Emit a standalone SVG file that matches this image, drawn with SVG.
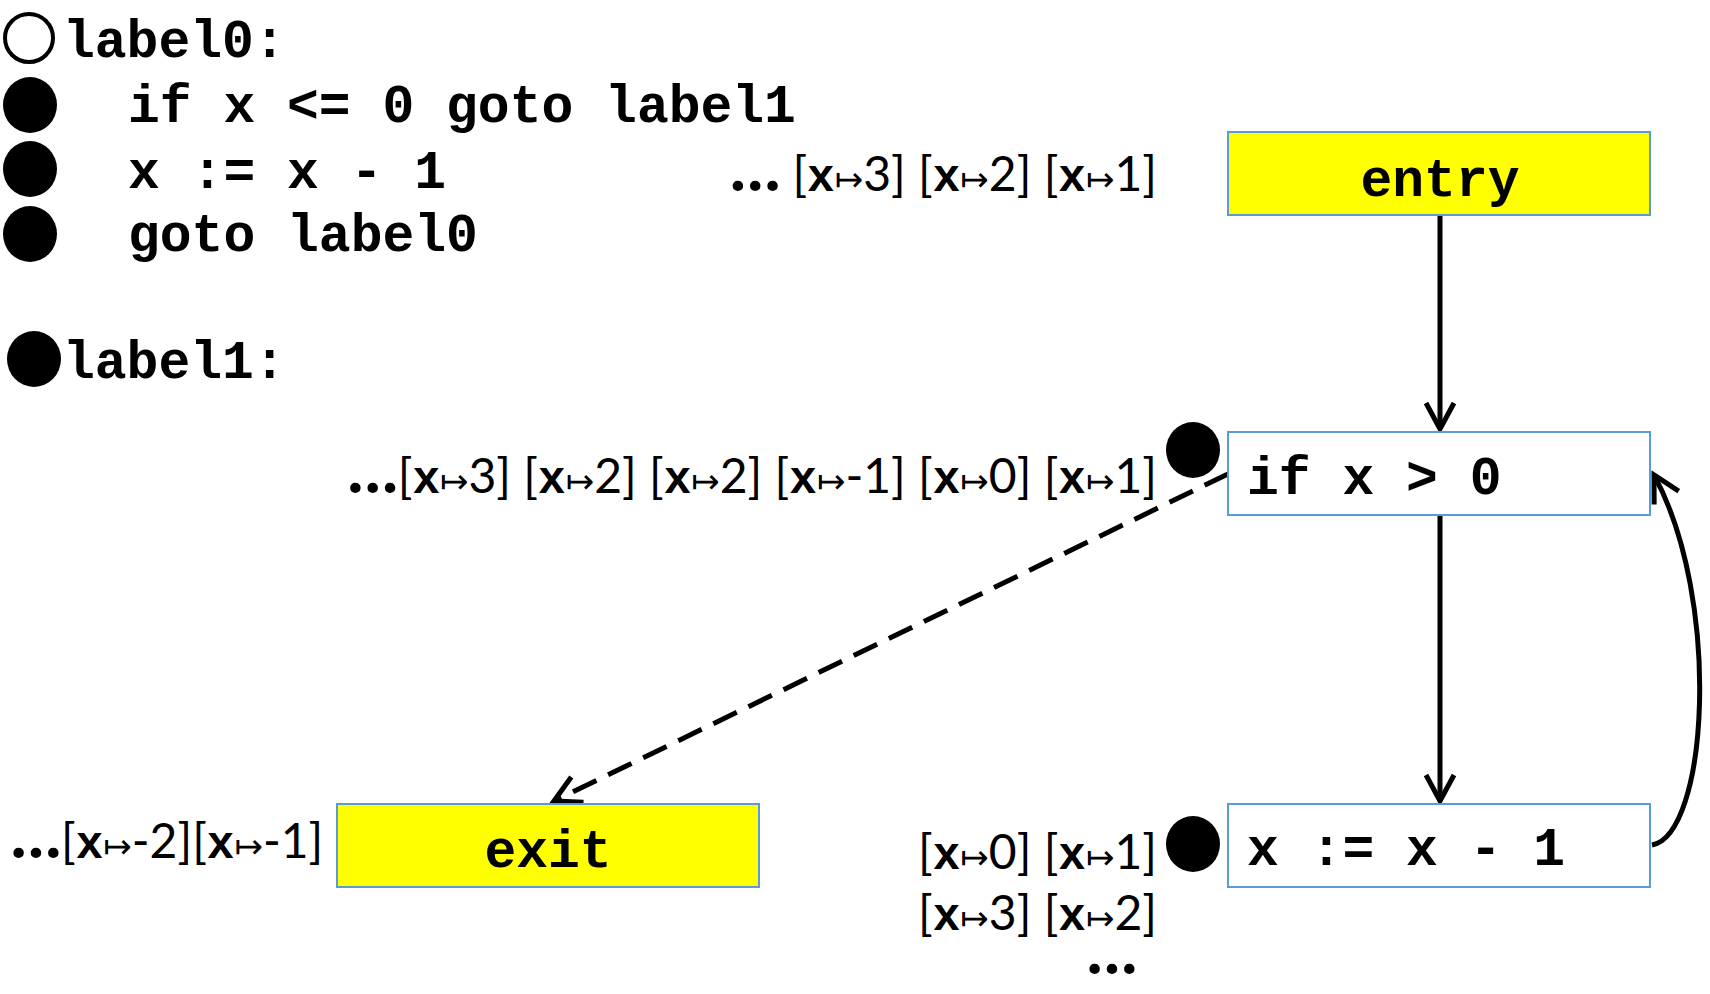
<svg xmlns="http://www.w3.org/2000/svg" width="1710" height="994" viewBox="0 0 1710 994">
<style>
.code{font-family:"Liberation Mono","Courier New",monospace;font-weight:bold;font-size:53px;fill:#000}
.ann{font-family:Lato,"Liberation Sans",sans-serif;font-size:48px;fill:#000}
.ann .v{font-family:"Liberation Mono","Courier New",monospace;font-weight:bold;font-size:46px}
.ann .m{font-family:"DejaVu Sans",sans-serif;font-size:34px}
.ann .d{font-weight:900;font-size:64px}
.box{stroke:#5B9BD5;stroke-width:2}
.edge{stroke:#000;stroke-width:5;fill:none}
</style>
<defs>
<marker id="arr" markerUnits="userSpaceOnUse" markerWidth="40" markerHeight="40" viewBox="-32 -20 40 40" refX="0" refY="0" orient="auto">
<path d="M-26,-14 L0,0 L-26,14" fill="none" stroke="#000" stroke-width="5"/>
</marker>
</defs>
<rect width="1710" height="994" fill="#fff"/>

<g id="code">
<circle cx="29" cy="38" r="24" fill="none" stroke="#000" stroke-width="4"/>
<text class="code" x="63" y="57">label0:</text>
<ellipse cx="30" cy="105" rx="27" ry="28" fill="#000"/>
<text class="code" x="128" y="122">if x &lt;= 0 goto label1</text>
<ellipse cx="30" cy="169" rx="27" ry="28" fill="#000"/>
<text class="code" x="128" y="188">x := x - 1</text>
<ellipse cx="30" cy="234" rx="27" ry="28" fill="#000"/>
<text class="code" x="128" y="251">goto label0</text>
<ellipse cx="34" cy="359" rx="27" ry="28" fill="#000"/>
<text class="code" x="63" y="378">label1:</text>
</g>

<g id="connectors">
<line class="edge" x1="1440" y1="215" x2="1440" y2="429" marker-end="url(#arr)"/>
<line class="edge" x1="1440" y1="515" x2="1440" y2="801" marker-end="url(#arr)"/>
<line class="edge" x1="1228" y1="474" x2="554" y2="801" stroke-dasharray="26 13" marker-end="url(#arr)"/>
<path class="edge" d="M1652,845 C1708,835 1722,600 1654,475" marker-end="url(#arr)"/>
</g>

<g id="entry">
<rect class="box" x="1228" y="132" width="422" height="83" fill="#FFFF00"/>
<text class="code" x="1440" y="196" text-anchor="middle">entry</text>
</g>
<g id="cond">
<rect class="box" x="1228" y="432" width="422" height="83" fill="#fff"/>
<text class="code" x="1247" y="494">if x &gt; 0</text>
<ellipse cx="1193" cy="450" rx="27" ry="28" fill="#000"/>
</g>
<g id="assign">
<rect class="box" x="1228" y="804" width="422" height="83" fill="#fff"/>
<text class="code" x="1247" y="865">x := x - 1</text>
<ellipse cx="1193" cy="844" rx="27" ry="28" fill="#000"/>
</g>
<g id="exit">
<rect class="box" x="337" y="804" width="422" height="83" fill="#FFFF00"/>
<text class="code" x="548" y="867" text-anchor="middle">exit</text>
</g>

<g id="annotations">
<text class="ann" x="1157" y="191" text-anchor="end"><tspan class="d">…</tspan> [<tspan class="v">x</tspan><tspan class="m">↦</tspan>3] [<tspan class="v">x</tspan><tspan class="m">↦</tspan>2] [<tspan class="v">x</tspan><tspan class="m">↦</tspan>1]</text>
<text class="ann" x="1157" y="493" text-anchor="end"><tspan class="d">…</tspan>[<tspan class="v">x</tspan><tspan class="m">↦</tspan>3] [<tspan class="v">x</tspan><tspan class="m">↦</tspan>2] [<tspan class="v">x</tspan><tspan class="m">↦</tspan>2] [<tspan class="v">x</tspan><tspan class="m">↦</tspan>-1] [<tspan class="v">x</tspan><tspan class="m">↦</tspan>0] [<tspan class="v">x</tspan><tspan class="m">↦</tspan>1]</text>
<text class="ann" x="11" y="858"><tspan class="d">…</tspan>[<tspan class="v">x</tspan><tspan class="m">↦</tspan>-2][<tspan class="v">x</tspan><tspan class="m">↦</tspan>-1]</text>
<text class="ann" x="1157" y="869" text-anchor="end">[<tspan class="v">x</tspan><tspan class="m">↦</tspan>0] [<tspan class="v">x</tspan><tspan class="m">↦</tspan>1]</text>
<text class="ann" x="918" y="930">[<tspan class="v">x</tspan><tspan class="m">↦</tspan>3] [<tspan class="v">x</tspan><tspan class="m">↦</tspan>2]</text>
<text class="ann" x="1112" y="974" text-anchor="middle" style="font-weight:900;font-size:64px">…</text>
</g>
</svg>
